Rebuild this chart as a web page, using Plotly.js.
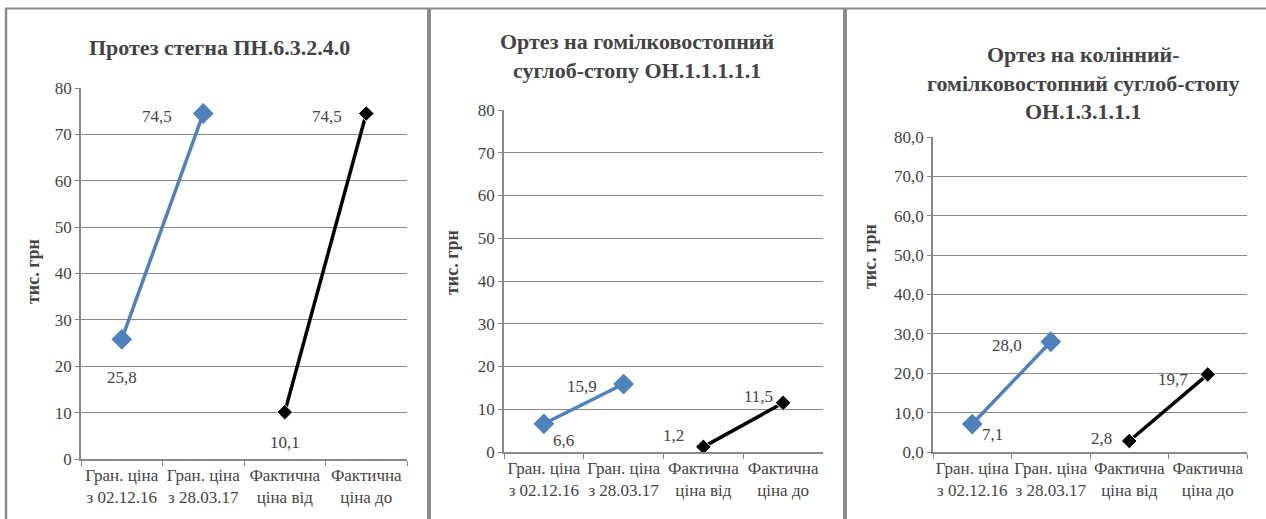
<!DOCTYPE html>
<html>
<head>
<meta charset="utf-8">
<script src="https://cdn.plot.ly/plotly-3.0.1.min.js"></script>
<style>
html,body{margin:0;padding:0;background:#fff;}
#chart{width:1266px;height:519px;}
#fontwarm{position:absolute;left:-9999px;top:0;font-family:'Liberation Serif';font-size:20px;}
</style>
</head>
<body>
<div id="fontwarm"><span>Протез стегна 74,5</span> <b>Протез стегна 74,5</b></div>
<div id="chart"></div>
<script>
// ---- data ----
const categories = ["Гран. ціна<br>з 02.12.16", "Гран. ціна<br>з 28.03.17", "Фактична<br>ціна від", "Фактична<br>ціна до"];
const panelTitles = [
  "Протез стегна ПН.6.3.2.4.0",
  "Ортез на гомілковостопний<br>суглоб-стопу ОН.1.1.1.1.1",
  "Ортез на колінний-<br>гомілковостопний суглоб-стопу<br>ОН.1.3.1.1.1"
];
const yAxisTitle = "тис. грн";
// limit prices (blue series, first two categories)
const limitPrice1 = [25.8, 74.5];
const limitPrice2 = [6.6, 15.9];
const limitPrice3 = [7.1, 28.0];
// actual prices (black series, last two categories)
const actualPrice1 = [10.1, 74.5];
const actualPrice2 = [1.2, 11.5];
const actualPrice3 = [2.8, 19.7];
const yTickVals = [0, 10, 20, 30, 40, 50, 60, 70, 80];
const yTickText12 = ["0", "10", "20", "30", "40", "50", "60", "70", "80"];
const yTickText3 = ["0,0", "10,0", "20,0", "30,0", "40,0", "50,0", "60,0", "70,0", "80,0"];

// ---- layout helpers (pixels) ----
const W = 1266, H = 519;
const px = v => v / W;
const py = v => 1 - v / H;
const fmt = v => v.toFixed(1).replace('.', ',');
const FONT_FAMILY = "Liberation Serif";
const gridCol = "#888888";

const panels = [
  {lim: limitPrice1, act: actualPrice1, x0: 81, x1: 407, yTop: 88, yBot: 459, ticks: yTickText12,
   limOff: [[0, -38], [-46, -3]], actOff: [[0, -30], [-39, -3]],
   titleX: 219, titleY: 47, yTitleX: 33, yTitleY: 272},
  {lim: limitPrice2, act: actualPrice2, x0: 504, x1: 823, yTop: 110, yBot: 452, ticks: yTickText12,
   limOff: [[20, -17], [-42, -2]], actOff: [[-30, 11], [-25, 6]],
   titleX: 637, titleY: 56, yTitleX: 452, yTitleY: 263},
  {lim: limitPrice3, act: actualPrice3, x0: 933, x1: 1247, yTop: 137, yBot: 452, ticks: yTickText3,
   limOff: [[20, -10], [-44, -4]], actOff: [[-28, 2], [-35, -5]],
   titleX: 1083, titleY: 83, yTitleX: 870, yTitleY: 257}
];

const data = [];
const layout = {
  width: W, height: H,
  margin: {l: 0, r: 0, t: 0, b: 0},
  paper_bgcolor: "#ffffff", plot_bgcolor: "#ffffff",
  showlegend: false,
  annotations: [], shapes: []
};

panels.forEach((p, i) => {
  const n = i === 0 ? "" : String(i + 1);
  const xa = "x" + n, ya = "y" + n;
  const limX = categories.slice(0, 2), actX = categories.slice(2, 4);
  data.push({
    type: "scatter", mode: "lines+markers", xaxis: xa, yaxis: ya,
    x: limX, y: p.lim,
    line: {color: "#4F81BD", width: 3.5},
    marker: {symbol: "diamond", size: 16, color: "#4F81BD"},
    cliponaxis: false, hoverinfo: "skip"
  });
  data.push({
    type: "scatter", mode: "lines+markers", xaxis: xa, yaxis: ya,
    x: actX, y: p.act,
    line: {color: "#000000", width: 3.5},
    marker: {symbol: "diamond", size: 12, color: "#000000", line: {color: "#ffffff", width: 1}},
    cliponaxis: false, hoverinfo: "skip"
  });
  // data labels anchored on the data points through the axes
  [[limX, p.lim, p.limOff], [actX, p.act, p.actOff]].forEach(([xs, ys, offs]) => {
    ys.forEach((v, k) => {
      layout.annotations.push({
        xref: xa, yref: ya, x: xs[k], y: v, showarrow: false,
        xanchor: "center", yanchor: "middle",
        xshift: offs[k][0], yshift: offs[k][1],
        text: fmt(v), font: {family: FONT_FAMILY, size: 17}
      });
    });
  });
  layout["xaxis" + n] = {
    domain: [px(p.x0), px(p.x1)], anchor: ya,
    type: "category", categoryarray: categories, range: [-0.5, 3.5],
    tickson: "boundaries", ticks: "outside", ticklen: 5, tickcolor: gridCol,
    showgrid: false, showline: true, linecolor: gridCol, linewidth: 1.5,
    tickfont: {family: FONT_FAMILY, size: 17}, tickangle: 0,
    fixedrange: true
  };
  layout["yaxis" + n] = {
    domain: [py(p.yBot), py(p.yTop)], anchor: xa,
    range: [0, 80], tickvals: yTickVals, ticktext: p.ticks,
    ticks: "outside", ticklen: 4, tickcolor: gridCol,
    showgrid: true, gridcolor: gridCol, gridwidth: 1,
    showline: true, linecolor: gridCol, linewidth: 1.5, zeroline: false,
    tickfont: {family: FONT_FAMILY, size: 17},
    fixedrange: true
  };
  layout.annotations.push({
    xref: "paper", yref: "paper", x: px(p.titleX), y: py(p.titleY),
    xanchor: "center", yanchor: "middle", showarrow: false,
    text: "<b>" + panelTitles[i] + "</b>",
    font: {family: FONT_FAMILY, size: 22}
  });
  layout.annotations.push({
    xref: "paper", yref: "paper", x: px(p.yTitleX), y: py(p.yTitleY),
    xanchor: "center", yanchor: "middle", showarrow: false, textangle: -90,
    text: "<b>" + yAxisTitle + "</b>",
    font: {family: FONT_FAMILY, size: 18}
  });
});

// frames around panels
const frameCol = "#8c8c8c";
layout.shapes.push({type: "line", xref: "paper", yref: "paper", x0: px(5), x1: 1, y0: py(8.5), y1: py(8.5), line: {color: frameCol, width: 2}});
[6, 429, 845].forEach(xv => {
  layout.shapes.push({type: "line", xref: "paper", yref: "paper", x0: px(xv), x1: px(xv), y0: py(8), y1: 0, line: {color: frameCol, width: xv === 6 ? 2.5 : 4}});
});

Plotly.newPlot("chart", data, layout, {displayModeBar: false});
</script>
</body>
</html>
